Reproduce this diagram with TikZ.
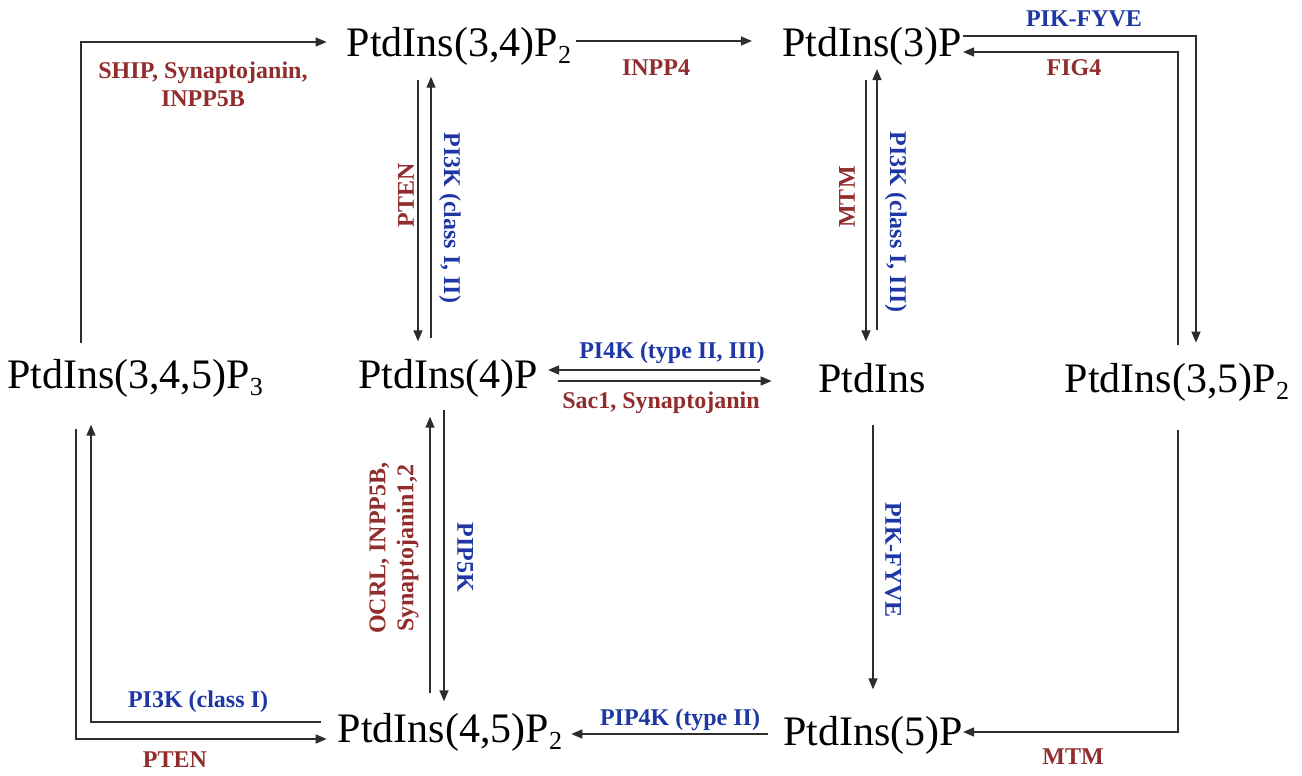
\documentclass[tikz,border=0pt]{standalone}
\usepackage{fontspec}
\setmainfont{Liberation Serif}
\usetikzlibrary{arrows.meta}
\definecolor{labred}{RGB}{145,45,45}
\definecolor{labblue}{RGB}{30,55,165}
\definecolor{linegray}{RGB}{45,45,45}
\newcommand\molsub[1]{\raisebox{-7pt}{\fontsize{26}{28}\selectfont #1}}
\begin{document}
\begin{tikzpicture}[x=1pt,y=-1pt,
  mol/.style={inner sep=0pt, anchor=base, font=\fontsize{42}{48}\selectfont},
  lab/.style={inner sep=0pt, font=\fontsize{24}{28}\selectfont\bfseries, align=center},
  rd/.style={text=labred}, bl/.style={text=labblue},
  arr/.style={draw=linegray, line width=1.4pt, -{Triangle[length=11pt,width=9pt]}}]
\useasboundingbox[fill=white] (0,0) rectangle (1302,776);
% molecules
\node[mol] (A) at (459,57)  {PtdIns(3,4)P\molsub{2}};
\node[mol] (B) at (872,57)  {PtdIns(3)P};
\node[mol] (C) at (135,388) {PtdIns(3,4,5)P\molsub{3}};
\node[mol] (D) at (448,388) {PtdIns(4)P};
\node[mol] (E) at (872,392) {PtdIns};
\node[mol] (F) at (1177,392) {PtdIns(3,5)P\molsub{2}};
\node[mol] (G) at (450,742) {PtdIns(4,5)P\molsub{2}};
\node[mol] (H) at (873,745) {PtdIns(5)P};
% C -> A
\draw[arr, shorten <=16pt, shorten >=20pt] (C.north -| 81,0) |- (A.west |- 0,42);
\node[lab,rd] (l1) at (203,84) {SHIP, Synaptojanin,\\INPP5B};
% A -> B
\draw[arr, shorten <=5pt, shorten >=30pt] (A.east |- 0,41) -- (B.west |- 0,41);
\node[lab,rd] (l2) at (656,68) {INPP4};
% A <-> D
\draw[arr, shorten <=13.6pt, shorten >=17.3pt] (A.south -| 418,0) -- (D.north -| 418,0);
\draw[arr, shorten <=21pt, shorten >=10.6pt] (D.north -| 431,0) -- (A.south -| 431,0);
\node[lab,rd,rotate=90] (l3) at (406,195) {PTEN};
\node[lab,bl,rotate=-90] (l4) at (450,218) {PI3K (class I, II)};
% B <-> E
\draw[arr, shorten <=13.6pt, shorten >=21.3pt] (B.south -| 866,0) -- (E.north -| 866,0);
\draw[arr, shorten <=33pt, shorten >=3pt] (E.north -| 877,0) -- (B.south -| 877,0);
\node[lab,rd,rotate=90] (l5) at (847,197) {MTM};
\node[lab,bl,rotate=-90] (l6) at (896,222) {PI3K (class I, III)};
% B <-> F
\draw[arr, shorten <=1pt, shorten >=20pt] (B.east |- 0,36) -| (F.north -| 1196,0);
\draw[arr, shorten <=18pt, shorten >=1pt] (F.north -| 1178,0) |- (B.east |- 0,52);
\node[lab,bl] (l7) at (1084,19) {PIK-FYVE};
\node[lab,rd] (l8) at (1074,68) {FIG4};
% D <-> E
\draw[arr, shorten <=58pt, shorten >=10pt] (E.west |- 0,370) -- (D.east |- 0,370);
\draw[arr, shorten <=20pt, shorten >=46.5pt] (D.east |- 0,381) -- (E.west |- 0,381);
\node[lab,bl] (l9) at (672,353) {PI4K (type II, III)};
\node[lab,rd] (l10) at (661,403) {Sac1, Synaptojanin};
% G <-> D
\draw[arr, shorten <=20pt, shorten >=19.6pt] (G.north -| 430,0) -- (D.south -| 430,0);
\draw[arr, shorten <=12.6pt, shorten >=11.3pt] (D.south -| 444,0) -- (G.north -| 444,0);
\node[lab,rd,rotate=90] (l11) at (394,548) {OCRL, INPP5B,\\Synaptojanin1,2};
\node[lab,bl,rotate=-90] (l12) at (465,557) {PIP5K};
% G <-> C
\draw[arr, shorten <=17pt, shorten >=27.6pt] (G.west |- 0,722) -| (C.south -| 91,0);
\draw[arr, shorten <=31.6pt, shorten >=11pt] (C.south -| 76,0) |- (G.west |- 0,739);
\node[lab,bl] (l13) at (198,702) {PI3K (class I)};
\node[lab,rd] (l14) at (175,760) {PTEN};
% E -> H
\draw[arr, shorten <=32.6pt, shorten >=26.3pt] (E.south -| 873,0) -- (H.north -| 873,0);
\node[lab,bl,rotate=-90] (l15) at (893,560) {PIK-FYVE};
% F -> H
\draw[arr, shorten <=28.6pt, shorten >=0pt] (F.south -| 1178,0) |- (H.east |- 0,732);
\node[lab,rd] (l16) at (1073,757) {MTM};
% H -> G
\draw[arr, shorten <=15pt, shorten >=9pt] (H.west |- 0,734) -- (G.east |- 0,734);
\node[lab,bl] (l17) at (680,720) {PIP4K (type II)};
\end{tikzpicture}
\end{document}
